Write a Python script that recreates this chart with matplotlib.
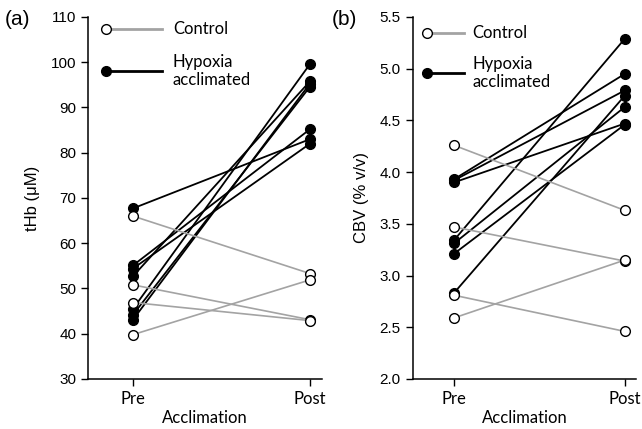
import matplotlib
matplotlib.use("Agg")
import matplotlib.pyplot as plt

# --- data (Pre, Post per animal)
thb_ctrl_pre = [66.0, 50.8, 46.9, 39.8]
thb_ctrl_post = [53.3, 43.1, 42.9, 51.9]
thb_hyp_pre = [67.7, 55.1, 54.4, 52.7, 45.5, 44.2, 43.1]
thb_hyp_post = [83.0, 85.2, 82.0, 95.8, 99.6, 94.6, 95.3]

cbv_ctrl_pre = [4.26, 3.47, 2.81, 2.59]
cbv_ctrl_post = [3.63, 3.14, 2.46, 3.15]
cbv_hyp_pre = [3.93, 3.92, 3.90, 3.34, 3.31, 3.21, 2.83]
cbv_hyp_post = [4.95, 4.79, 4.47, 5.29, 4.63, 4.46, 4.74]

phases = ["Pre", "Post"]
thb_ticks = [30, 40, 50, 60, 70, 80, 90, 100, 110]
cbv_ticks = [2.0, 2.5, 3.0, 3.5, 4.0, 4.5, 5.0, 5.5]

GREY = "#a3a3a3"
LABEL_FONT = ["Lato", "DejaVu Sans"]
TICK_FONT = ["Liberation Sans", "DejaVu Sans"]


def draw_pairs(ax, pre, post, filled):
    xs = [0, 1]
    for a, b in zip(pre, post):
        if filled:
            ax.plot(xs, [a, b], color="black", lw=1.3, marker="o", ms=7,
                    mfc="black", mec="black", mew=1.0, zorder=2)
        else:
            ax.plot(xs, [a, b], color=GREY, lw=1.2, marker="o", ms=7,
                    mfc="white", mec="black", mew=1.0, zorder=3)


def fake_legend(ax, x0, x1, xt, y_ctrl, y_hyp):
    ax.plot([x0, x1], [y_ctrl, y_ctrl], transform=ax.transAxes, color=GREY,
            lw=2.0, clip_on=False)
    ax.plot([x0], [y_ctrl], transform=ax.transAxes, marker="o", ms=7,
            mfc="white", mec="black", mew=1.0, clip_on=False)
    ax.plot([x0, x1], [y_hyp, y_hyp], transform=ax.transAxes, color="black",
            lw=2.0, clip_on=False)
    ax.plot([x0], [y_hyp], transform=ax.transAxes, marker="o", ms=7,
            mfc="black", mec="black", clip_on=False)
    ax.text(xt, y_ctrl, "Control", transform=ax.transAxes, va="center",
            ha="left", fontsize=12, family=LABEL_FONT)
    ax.text(xt, y_hyp, "Hypoxia\nacclimated", transform=ax.transAxes,
            va="center", ha="left", fontsize=12, family=LABEL_FONT,
            linespacing=1.15)


def style_axes(ax, ticks, fmt):
    for side in ("top", "right"):
        ax.spines[side].set_visible(False)
    for side in ("left", "bottom"):
        ax.spines[side].set_linewidth(1.1)
    ax.set_yticks(ticks)
    ax.set_yticklabels([fmt.format(t) for t in ticks], family=TICK_FONT,
                       fontsize=11)
    ax.set_xticks([0, 1])
    ax.set_xticklabels(phases, family=LABEL_FONT, fontsize=12)
    ax.tick_params(direction="out", length=5, width=1.0)
    ax.set_xlabel("Acclimation", family=LABEL_FONT, fontsize=12, labelpad=2)


fig = plt.figure(figsize=(6.42, 4.29), dpi=100)

# --- (a) tHb
ax1 = fig.add_axes([0.1371, 0.1166, 0.3645, 0.8438])
draw_pairs(ax1, thb_hyp_pre, thb_hyp_post, True)
draw_pairs(ax1, thb_ctrl_pre, thb_ctrl_post, False)
ax1.set_xlim(-0.254, 1.068)
ax1.set_ylim(30, 110)
style_axes(ax1, thb_ticks, "{:.0f}")
ax1.set_ylabel("tHb (\u03bcM)", family=TICK_FONT, fontsize=12, labelpad=8)
fake_legend(ax1, 0.077, 0.316, 0.363, 0.967, 0.851)
fig.text(0.008, 0.955, "(a)", family=TICK_FONT, fontsize=15, va="center")

# --- (b) CBV
ax2 = fig.add_axes([0.6428, 0.1166, 0.3480, 0.8438])
draw_pairs(ax2, cbv_hyp_pre, cbv_hyp_post, True)
draw_pairs(ax2, cbv_ctrl_pre, cbv_ctrl_post, False)
ax2.set_xlim(-0.241, 1.066)
ax2.set_ylim(2.0, 5.5)
style_axes(ax2, cbv_ticks, "{:.1f}")
ax2.set_ylabel("CBV (% v/v)", family=TICK_FONT, fontsize=12, labelpad=8)
fake_legend(ax2, 0.062, 0.231, 0.268, 0.956, 0.845)
fig.text(0.516, 0.955, "(b)", family=TICK_FONT, fontsize=15, va="center")

fig.savefig("out.png", dpi=100)
